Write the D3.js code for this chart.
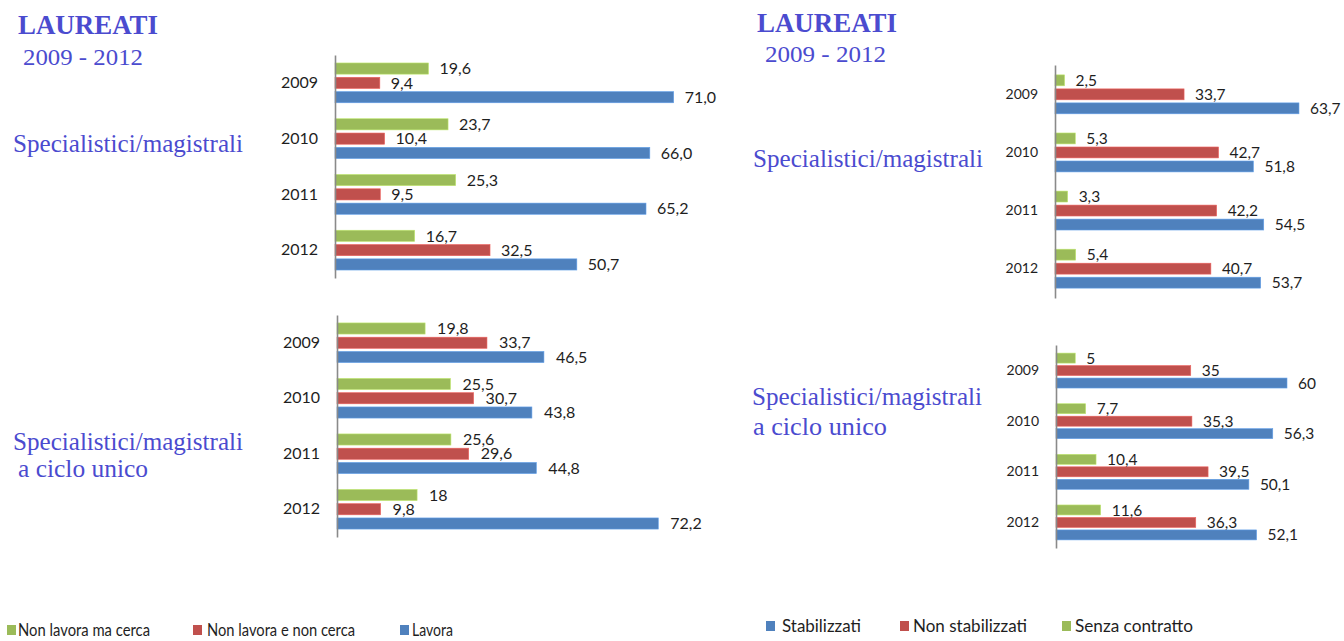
<!DOCTYPE html>
<html>
<head>
<meta charset="utf-8">
<script src="https://cdn.jsdelivr.net/npm/d3@7"></script>
<style>
  html, body { margin: 0; padding: 0; background: #fff; }
  svg { display: block; }
</style>
</head>
<body>
<svg id="chart" width="1344" height="641"></svg>
<script>
// ---------- DATA ----------
const years = ["2009", "2010", "2011", "2012"];

// Left charts (Laureati: condizione occupazionale)
const leftSeries = ["Non lavora ma cerca", "Non lavora e non cerca", "Lavora"];
const specNonLavoraMaCerca   = [19.6, 23.7, 25.3, 16.7];
const specNonLavoraNonCerca  = [9.4, 10.4, 9.5, 32.5];
const specLavora             = [71.0, 66.0, 65.2, 50.7];
const cicloNonLavoraMaCerca  = [19.8, 25.5, 25.6, 18];
const cicloNonLavoraNonCerca = [33.7, 30.7, 29.6, 9.8];
const cicloLavora            = [46.5, 43.8, 44.8, 72.2];

// Right charts (Laureati che lavorano: tipo di contratto)
const rightSeries = ["Stabilizzati", "Non stabilizzati", "Senza contratto"];
const specSenzaContratto   = [2.5, 5.3, 3.3, 5.4];
const specNonStabilizzati  = [33.7, 42.7, 42.2, 40.7];
const specStabilizzati     = [63.7, 51.8, 54.5, 53.7];
const cicloSenzaContratto  = [5, 7.7, 10.4, 11.6];
const cicloNonStabilizzati = [35, 35.3, 39.5, 36.3];
const cicloStabilizzati    = [60, 56.3, 50.1, 52.1];

const titleText = "LAUREATI";
const periodText = "2009 - 2012";
const groupLabel1 = "Specialistici/magistrali";
const groupLabel2 = "a ciclo unico";

// ---------- STYLE ----------
const GREEN = "#9BBB59", RED = "#C0504D", BLUE = "#4F81BD";
const TITLE_COLOR = "#4b4bcf";
const SERIF = "'Liberation Serif', 'DejaVu Serif', serif";
const SANS = "Lato, 'Open Sans', sans-serif";

const svg = d3.select("#chart");

function panel(cfg) {
  const g = svg.append("g");
  const x = d3.scaleLinear().domain([0, 80]).range([cfg.x0, cfg.x0 + cfg.k * 80]);
  const y = d3.scaleBand().domain(years).range([cfg.y0, cfg.y1])
    .paddingInner(cfg.pIn).paddingOuter(cfg.pOut);
  const keys = ["g", "r", "b"];
  const yi = d3.scaleBand().domain(keys).range([0, y.bandwidth()]).paddingInner(cfg.barPad);
  const colors = { g: GREEN, r: RED, b: BLUE };
  const rows = years.map((yr, i) => ({
    year: yr,
    vals: [
      { key: "g", v: cfg.green[i] },
      { key: "r", v: cfg.red[i] },
      { key: "b", v: cfg.blue[i] }
    ]
  }));
  const fmt = v => (cfg.fixed ? d3.format(".1f")(v) : String(v)).replace(".", ",");

  const grp = g.selectAll("g.grp").data(rows).enter().append("g")
    .attr("transform", d => `translate(0,${y(d.year)})`);
  grp.selectAll("rect").data(d => d.vals).enter().append("rect")
    .attr("x", x(0))
    .attr("y", d => yi(d.key))
    .attr("width", d => x(d.v) - x(0))
    .attr("height", yi.bandwidth())
    .attr("fill", d => colors[d.key])
    .attr("stroke", d => d3.color(colors[d.key]).brighter(0.6))
    .attr("stroke-width", 0.6);
  grp.selectAll("text").data(d => d.vals).enter().append("text")
    .attr("x", d => x(d.v) + cfg.labOff)
    .attr("y", d => yi(d.key) + yi.bandwidth() / 2)
    .attr("dy", "0.36em")
    .attr("font-family", SANS)
    .attr("font-size", cfg.labSize)
    .attr("fill", "#1e1e1e")
    .text(d => fmt(d.v));

  const axis = d3.axisLeft(y).tickSize(0).tickSizeOuter(0).tickPadding(17);
  const ax = g.append("g").attr("transform", `translate(${x(0)},0)`).call(axis);
  ax.select(".domain").attr("stroke", "#8a8a8a").attr("stroke-width", 1.6);
  ax.selectAll("text").attr("font-family", SANS).attr("font-size", cfg.yearSize).attr("fill", "#1e1e1e");
}

panel({ x0: 335, k: 4.77, y0: 55, y1: 278, pIn: 0.286, pOut: 0.143, barPad: 0.22,
  green: specNonLavoraMaCerca, red: specNonLavoraNonCerca, blue: specLavora,
  fixed: true, labOff: 11, labSize: 16, yearSize: 16 });
panel({ x0: 337, k: 4.45, y0: 315, y1: 537, pIn: 0.286, pOut: 0.143, barPad: 0.22,
  green: cicloNonLavoraMaCerca, red: cicloNonLavoraNonCerca, blue: cicloLavora,
  fixed: false, labOff: 12, labSize: 16, yearSize: 16 });
panel({ x0: 1055, k: 3.83, y0: 65, y1: 298, pIn: 0.33, pOut: 0.17, barPad: 0.22,
  green: specSenzaContratto, red: specNonStabilizzati, blue: specStabilizzati,
  fixed: false, labOff: 11, labSize: 15.5, yearSize: 14 });
panel({ x0: 1056, k: 3.85, y0: 345, y1: 548, pIn: 0.31, pOut: 0.16, barPad: 0.2,
  green: cicloSenzaContratto, red: cicloNonStabilizzati, blue: cicloStabilizzati,
  fixed: false, labOff: 11, labSize: 15.5, yearSize: 14 });

// ---------- TITLES ----------
function serifText(txt, x, y, size, len, weight) {
  svg.append("text").attr("x", x).attr("y", y)
    .attr("font-family", SERIF).attr("font-size", size)
    .attr("font-weight", weight || "normal")
    .attr("fill", TITLE_COLOR)
    .attr("textLength", len).attr("lengthAdjust", "spacingAndGlyphs")
    .text(txt);
}
serifText(titleText, 18, 34, 27, 140, "bold");
serifText(periodText, 23, 65, 24, 120);
serifText(groupLabel1, 13, 152, 25, 230);
serifText(groupLabel1, 13, 450, 25, 230);
serifText(groupLabel2, 18, 477, 25, 130);

serifText(titleText, 757, 32, 27, 140, "bold");
serifText(periodText, 765, 62, 24, 121);
serifText(groupLabel1, 753, 167, 25, 230);
serifText(groupLabel1, 752, 405, 25, 230);
serifText(groupLabel2, 753, 435, 25, 134);

// ---------- LEGENDS ----------
function legend(items, cy, size) {
  const lg = svg.append("g");
  items.forEach(it => {
    lg.append("rect").attr("x", it.sx).attr("y", cy - 5).attr("width", 9).attr("height", 10).attr("fill", it.color);
    lg.append("text").attr("x", it.tx).attr("y", cy).attr("dy", "0.36em")
      .attr("font-family", SANS).attr("font-size", size).attr("fill", "#1e1e1e")
      .attr("textLength", it.len).attr("lengthAdjust", "spacingAndGlyphs")
      .text(it.label);
  });
}
legend([
  { label: leftSeries[0], color: GREEN, sx: 7, tx: 18, len: 132 },
  { label: leftSeries[1], color: RED, sx: 193, tx: 207, len: 148 },
  { label: leftSeries[2], color: BLUE, sx: 400, tx: 412, len: 41 }
], 630, 17);
legend([
  { label: rightSeries[0], color: BLUE, sx: 766, tx: 782, len: 79 },
  { label: rightSeries[1], color: RED, sx: 900, tx: 913, len: 114 },
  { label: rightSeries[2], color: GREEN, sx: 1062, tx: 1075, len: 118 }
], 626, 17);
</script>
</body>
</html>
